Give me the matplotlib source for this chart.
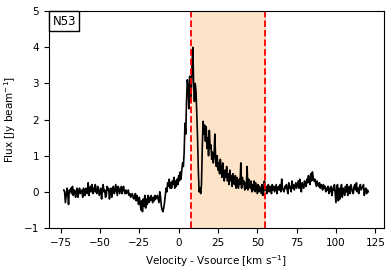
import numpy as np
import matplotlib
matplotlib.use("Agg")
import matplotlib.pyplot as plt
from matplotlib.offsetbox import AnchoredText

# spectrum channels, km/s (0.5 km/s steps from -73 to 120.5)
velocity = np.arange(-73, 121, 0.5)

flux = [
    0.05, 0.0, -0.3, -0.1, 0.1, -0.05, -0.35, 0.05, 0.0, 0.1, -0.05, 0.15, -0.1, 0.05, 0.0, -0.15, 0.05, 0.1, -0.15, 0.0,
    0.1, -0.05, 0.0, 0.05, -0.15, 0.1, 0.05, -0.1, 0.1, 0.0, -0.05, 0.25, -0.1, 0.05, 0.15, 0.0, 0.2, -0.05, 0.1, 0.0,
    0.2, 0.0, -0.05, 0.15, 0.1, -0.1, 0.0, 0.1, -0.2, 0.05, 0.2, 0.0, 0.05, -0.15, -0.1, 0.15, 0.05, 0.1, -0.2, 0.0,
    0.1, -0.15, 0.05, 0.15, -0.05, 0.0, 0.2, 0.05, -0.1, 0.15, 0.1, -0.05, 0.05, 0.15, -0.05, 0.1, 0.15, 0.0, -0.05, 0.05,
    -0.05, 0.0, 0.05, -0.1, -0.05, -0.15, -0.1, -0.05, -0.15, -0.2, -0.1, -0.05, -0.25, -0.1, -0.2, -0.35, -0.15, -0.3, -0.5, -0.25,
    -0.55, -0.2, -0.4, -0.1, -0.45, -0.2, -0.35, -0.1, -0.3, -0.15, -0.25, -0.1, -0.2, -0.3, -0.15, -0.25, -0.1, -0.2, -0.15, -0.1,
    -0.2, -0.3, 0.0, -0.15, -0.4, -0.5, -0.55, -0.45, -0.3, -0.1, 0.1, 0.0, 0.25, 0.15, 0.35, 0.1, 0.25, 0.1, 0.3, 0.2,
    0.4, 0.1, 0.3, 0.15, 0.35, 0.2, 0.45, 0.3, 0.55, 0.35, 0.6, 0.8, 0.7, 1.1, 1.9, 1.6, 2.5, 3.1, 2.9, 2.3,
    3.2, 2.5, 2.8, 3.5, 4.0, 3.0, 2.5, 3.0, 2.8, 2.2, 1.5, 0.6, 0.0, 0.1, -0.05, 0.2, 1.2, 1.95, 1.6, 1.85,
    1.4, 1.8, 1.2, 1.5, 1.0, 1.7, 1.2, 1.3, 0.9, 1.1, 0.8, 1.0, 1.6, 0.9, 0.7, 1.0, 0.6, 0.8, 0.5, 0.9,
    0.6, 0.4, 0.8, 0.5, 0.3, 0.6, 0.4, 0.7, 0.3, 0.5, 0.2, 0.6, 0.3, 0.45, 0.15, 0.5, 0.3, 0.2, 0.45, 0.1,
    0.4, 0.2, 0.1, 0.35, 0.2, 0.8, 0.1, 0.4, 0.2, 0.3, 0.05, 0.25, 0.1, 0.7, 0.05, 0.35, 0.2, 0.1, 0.3, 0.0,
    0.2, 0.05, 0.3, 0.0, 0.25, 0.1, -0.05, 0.2, 0.0, 0.15, 0.05, -0.05, 0.2, -0.1, 0.0, 0.3, 0.05, 0.15, -0.05, 0.1,
    0.2, 0.0, 0.15, 0.1, -0.05, 0.2, 0.05, 0.15, 0.0, 0.1, 0.2, -0.05, 0.1, 0.15, 0.05, 0.2, 0.0, 0.35, 0.1, 0.05,
    0.0, 0.15, 0.1, 0.2, 0.05, -0.05, 0.25, 0.1, 0.15, 0.0, 0.3, 0.1, 0.2, 0.05, 0.15, 0.25, 0.1, 0.2, 0.3, 0.1,
    0.35, 0.1, 0.0, 0.25, 0.15, 0.1, 0.3, 0.2, 0.15, 0.35, 0.25, 0.45, 0.3, 0.2, 0.5, 0.3, 0.55, 0.4, 0.3, 0.35,
    0.25, 0.15, 0.3, 0.2, 0.15, 0.25, 0.1, 0.2, 0.15, 0.05, 0.2, 0.1, 0.15, 0.0, 0.1, 0.05, 0.15, -0.05, 0.1, 0.0,
    0.15, -0.1, 0.1, 0.05, 0.2, -0.05, -0.3, 0.15, 0.2, -0.25, 0.1, -0.2, 0.05, 0.2, -0.15, 0.1, 0.05, -0.1, 0.15, 0.0,
    0.2, -0.1, 0.05, 0.15, -0.05, 0.2, 0.1, 0.0, -0.05, 0.15, 0.2, 0.05, 0.25, 0.0, 0.1, -0.05, 0.15, 0.2, 0.05, 0.1,
    0.15, 0.2, -0.1, 0.05, 0.1, -0.05, 0.05, 0.0,
]

v_low = 8
v_high = 55
source_name = "N53"

fig = plt.figure(figsize=(3.91, 2.72), dpi=100)
ax = fig.add_axes([0.125, 0.162, 0.857, 0.797])

ax.axvspan(v_low, v_high, color="#fde4c8", zorder=0)
ax.plot(velocity, flux, color="black", lw=1.2)
ax.axvline(v_low, color="red", ls="--", lw=1.3)
ax.axvline(v_high, color="red", ls="--", lw=1.3)

ax.set_xlim(-82.5, 130.5)
ax.set_ylim(-1, 5)
ax.set_xlabel("Velocity - Vsource [km s$^{-1}$]", fontsize=7.5)
ax.set_ylabel("Flux [Jy beam$^{-1}$]", fontsize=7.5)
ax.tick_params(labelsize=7.5)

at = AnchoredText(source_name, loc="upper left", borderpad=0, pad=0.3, prop=dict(size=8.5))
ax.add_artist(at)

fig.savefig("out.png", dpi=100)
